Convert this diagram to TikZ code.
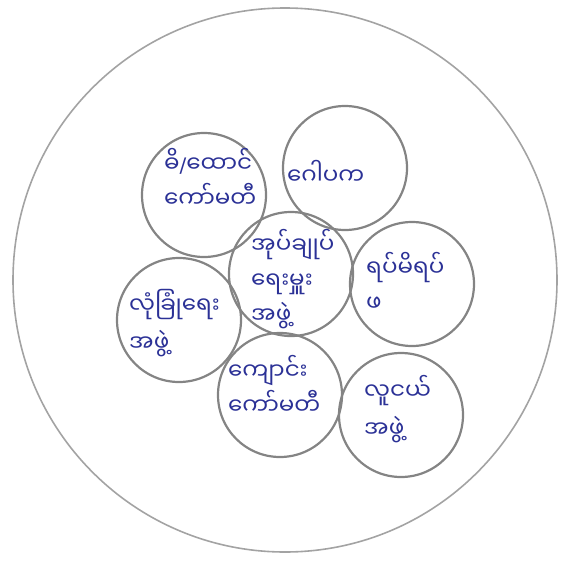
\documentclass[tikz,border=0pt]{standalone}
\usepackage{fontspec}
\usepackage{tikz}
\usepackage{xcolor}
\newfontfamily\myanmar[Script=Myanmar]{Noto Sans Myanmar UI}
\newfontfamily\slashfont{DejaVu Sans}
\definecolor{pencil}{HTML}{848484}
\definecolor{ink}{HTML}{2B3196}

\begin{document}
\begin{tikzpicture}[x=1pt,y=-1pt,
  group/.style={circle,draw=pencil,line width=2.2pt,minimum size=124pt,inner sep=0pt},
  label/.style={anchor=west,align=left,text=ink,inner sep=0pt,
    font=\myanmar\fontsize{23}{35}\selectfont}]
  \useasboundingbox (0,0) rectangle (567,562);
  \node[circle,draw=pencil!75,line width=1.6pt,minimum size=544pt] (village) at (285,280) {};
  \node[group] (council) at (204,195) {};
  \node[group] (trustee) at (345,168) {};
  \node[group] (admin) at (291,274) {};
  \node[group] (elders) at (412,284) {};
  \node[group] (security) at (179,320) {};
  \node[group] (school) at (280,395) {};
  \node[group] (youth) at (401,415) {};
  \node[label] (councilT) at (164,178) {ဓိ{\slashfont\fontsize{20}{35}\selectfont/}ထောင်\\ကော်မတီ};
  \node[label] (trusteeT) at (287,172) {ဂေါပက};
  \node[label] (adminT) at (251,279) {အုပ်ချုပ်\\ရေးမှူး\\အဖွဲ့};
  \node[label] (eldersT) at (366,282) {ရပ်မိရပ်\\ဖ};
  \node[label,font=\myanmar\fontsize{23}{38}\selectfont] (securityT) at (129,323) {လုံခြုံရေး\\အဖွဲ့};
  \node[label] (schoolT) at (228,385) {ကျောင်း\\ကော်မတီ};
  \node[label,font=\myanmar\fontsize{23}{38}\selectfont] (youthT) at (364,409) {လူငယ်\\အဖွဲ့};
\end{tikzpicture}
\end{document}
